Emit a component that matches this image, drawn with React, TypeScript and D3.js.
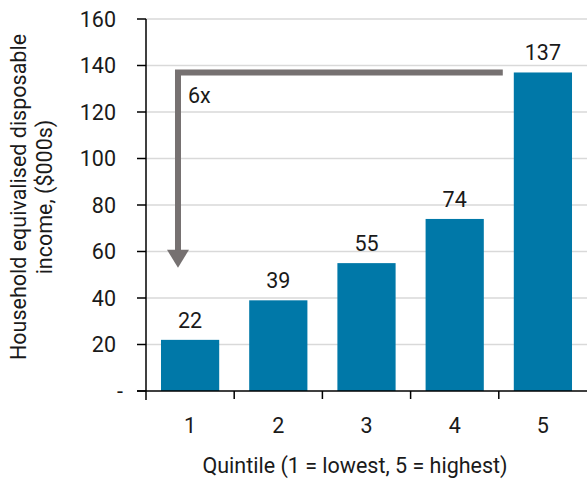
import React from "react";
import * as d3 from "d3";

const categories = ["1", "2", "3", "4", "5"];
const values = [22, 39, 55, 74, 137];
const yTicks = [0, 20, 40, 60, 80, 100, 120, 140, 160];
const yTickLabels = ["-", "20", "40", "60", "80", "100", "120", "140", "160"];
const arrowTop = 137;
const arrowBottom = 53;
const arrowLabel = "6x";

const W = 587, H = 479;
const m = { left: 146, right: 0, top: 19, bottom: 88 };
const FONT = "Roboto, 'Noto Sans', sans-serif";
const FS = 21.5;

export default function App() {
  const x = d3.scaleBand().domain(categories).range([m.left, W - m.right]).paddingInner(0.34).paddingOuter(0.17);
  const y = d3.scaleLinear().domain([0, 160]).range([H - m.bottom, m.top]);
  const step = x.step();
  const x0 = y(0);
  const gray = "#767171";
  const arrowX = (x("1") ?? 0) + 17;
  const hy = y(arrowTop);
  const tipY = y(arrowBottom);
  const hx2 = (x("5") ?? 0) - 11;
  return (
    <svg width={W} height={H} style={{ position: "absolute", left: 0, top: 0 }} fontFamily={FONT}>
      <rect width={W} height={H} fill="#fff" />
      {yTicks.filter((t) => t > 0).map((t) => (
        <line key={t} x1={m.left} x2={W} y1={y(t)} y2={y(t)} stroke="#d9d9d9" strokeWidth={1.5} />
      ))}
      {values.map((v, i) => (
        <g key={i}>
          <rect x={x(categories[i])} y={y(v)} width={x.bandwidth()} height={x0 - y(v)} fill="#0078A8" />
          <text x={(x(categories[i]) ?? 0) + x.bandwidth() / 2} y={y(v) - 12} textAnchor="middle" fontSize={FS} fill="#1a1a1a">{v}</text>
        </g>
      ))}
      <line x1={m.left} x2={m.left} y1={m.top} y2={x0 + 9} stroke="#000" strokeWidth={1.5} />
      <line x1={m.left - 9} x2={W} y1={x0} y2={x0} stroke="#000" strokeWidth={1.5} />
      {yTicks.map((t, i) => (
        <g key={t}>
          <line x1={m.left - 9} x2={m.left} y1={y(t)} y2={y(t)} stroke="#000" strokeWidth={1.5} />
          <text x={i === 0 ? 123 : 116} y={y(t)} dy="0.35em" textAnchor="end" fontSize={FS} fill="#1a1a1a">{yTickLabels[i]}</text>
        </g>
      ))}
      {categories.map((c, i) => (
        <g key={c}>
          {i > 0 && <line x1={m.left + step * i} x2={m.left + step * i} y1={x0} y2={x0 + 8} stroke="#000" strokeWidth={1.5} />}
          <text x={(x(c) ?? 0) + x.bandwidth() / 2} y={x0 + 42} textAnchor="middle" fontSize={FS} fill="#1a1a1a">{c}</text>
        </g>
      ))}
      <text x={355} y={H - 6} textAnchor="middle" fontSize={FS} fill="#1a1a1a">Quintile (1 = lowest, 5 = highest)</text>
      <g transform="translate(26,197) rotate(-90)">
        <text x={0} y={0} textAnchor="middle" fontSize={FS} fill="#1a1a1a">Household equivalised disposable</text>
        <text x={0} y={26} textAnchor="middle" fontSize={FS} fill="#1a1a1a">income, ($000s)</text>
      </g>
      <path d={`M${hx2},${hy} H${arrowX} V${tipY - 16}`} fill="none" stroke={gray} strokeWidth={6} />
      <path d={`M${arrowX - 11},${tipY - 18} L${arrowX + 11},${tipY - 18} L${arrowX},${tipY} Z`} fill={gray} />
      <text x={arrowX + 10} y={hy + 31} fontSize={FS} fill="#1a1a1a">{arrowLabel}</text>
    </svg>
  );
}
